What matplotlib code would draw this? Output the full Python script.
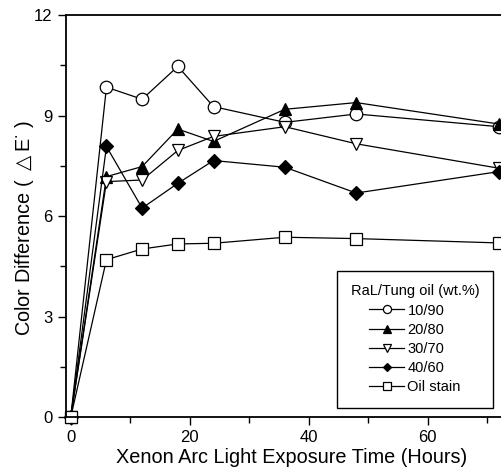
import matplotlib.pyplot as plt
from matplotlib.ticker import MultipleLocator

plt.rcParams["font.family"] = ["Liberation Sans", "DejaVu Sans"]

hours = [0, 6, 12, 18, 24, 36, 48, 72]
ral_10_90 = [0, 9.85, 9.49, 10.47, 9.27, 8.80, 9.05, 8.67]
ral_20_80 = [0, 7.18, 7.48, 8.60, 8.23, 9.19, 9.39, 8.75]
ral_30_70 = [0, 7.03, 7.08, 7.96, 8.38, 8.67, 8.16, 7.43]
ral_40_60 = [0, 8.08, 6.24, 6.98, 7.66, 7.46, 6.69, 7.33]
oil_stain = [0, 4.70, 5.02, 5.17, 5.19, 5.37, 5.33, 5.20]

series = [
    ("10/90", ral_10_90, "o", "white"),
    ("20/80", ral_20_80, "^", "black"),
    ("30/70", ral_30_70, "v", "white"),
    ("40/60", ral_40_60, "D", "black"),
    ("Oil stain", oil_stain, "s", "white"),
]


def main():
    fig = plt.figure(figsize=(5.02, 4.74), dpi=100)
    ax = fig.add_axes([0.1315, 0.12, 0.898, 0.848])

    for label, vals, marker, face in series:
        ms = 7 if marker == "D" else 9
        ax.plot(hours, vals, color="black", lw=0.9, marker=marker,
                markersize=ms, markerfacecolor=face, markeredgecolor="black",
                markeredgewidth=0.9, label=label, clip_on=False)

    ax.set_xlim(-0.8, 75)
    ax.set_ylim(0, 12)
    ax.xaxis.set_major_locator(MultipleLocator(20))
    ax.xaxis.set_minor_locator(MultipleLocator(10))
    ax.yaxis.set_major_locator(MultipleLocator(3))
    ax.yaxis.set_minor_locator(MultipleLocator(1.5))
    ax.tick_params(which="both", direction="out", labelsize=12, width=1)
    ax.tick_params(which="major", length=6)
    ax.tick_params(which="minor", length=4)
    for s in ax.spines.values():
        s.set_linewidth(1.3)

    ax.set_xlabel("Xenon Arc Light Exposure Time (Hours)", fontsize=14.3, labelpad=2)
    ax.set_ylabel("Color Difference ( $\\triangle$E$^{\\cdot}$ )", fontsize=14.3,
                  labelpad=-1, y=0.47)

    # legend
    leg = ax.legend(title="RaL/Tung oil (wt.%)", loc="lower right",
                    bbox_to_anchor=(0.964, 0.005), fontsize=10.5,
                    title_fontsize=10.5, fancybox=False, edgecolor="black",
                    framealpha=1, handlelength=2.4, handletextpad=0.2,
                    labelspacing=0.35, borderpad=0.95, markerscale=0.65)
    leg.get_frame().set_linewidth(1.0)

    fig.savefig("out.png", dpi=100)


if __name__ == "__main__":
    main()
